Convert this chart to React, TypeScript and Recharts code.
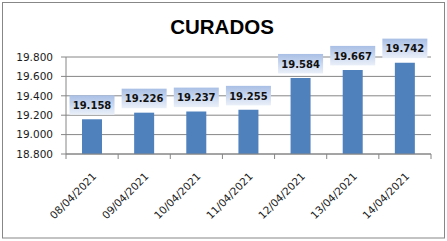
import { Bar, BarChart, CartesianGrid, LabelList, XAxis, YAxis } from 'recharts'

const dates = ['08/04/2021', '09/04/2021', '10/04/2021', '11/04/2021', '12/04/2021', '13/04/2021', '14/04/2021']
const curados = [19158, 19226, 19237, 19255, 19584, 19667, 19742]
const yTicks = [18800, 19000, 19200, 19400, 19600, 19800]

const data = dates.map((d, i) => ({ date: d, value: curados[i] }))

const GRID = '#868686'
const FONT = '"DejaVu Sans", Verdana, sans-serif'

const fmt = (v: number) => {
  const s = Math.round(v).toString()
  return s.replace(/\B(?=(\d{3})+(?!\d))/g, '.')
}

function DateTick(props: any) {
  const { x, y, payload, index } = props
  const off = payload?.offset ?? 26
  const tx = x + 5
  const ty = y + 23
  return (
    <g>
      <line x1={x - off} x2={x - off} y1={y} y2={y + 5} stroke={GRID} />
      {index === dates.length - 1 && <line x1={x + off} x2={x + off} y1={y} y2={y + 5} stroke={GRID} />}
      <text
        x={tx}
        y={ty}
        transform={`rotate(-45 ${tx} ${ty})`}
        textAnchor="end"
        fontSize={10.5}
        fontFamily={FONT}
        fill="#1b1b1b"
      >
        {payload.value}
      </text>
    </g>
  )
}

function ValueLabel(props: any) {
  const { x, y, width, value } = props
  const cx = x + width / 2
  const h = 19.5
  const w = 45
  const bottom = y - 4.5
  return (
    <g>
      <rect x={cx - w / 2} y={bottom - h} width={w} height={h} fill="url(#lblGrad)" />
      <text
        x={cx}
        y={bottom - h / 2 + 4}
        textAnchor="middle"
        fontSize={10}
        fontWeight="bold"
        fontFamily={FONT}
        fill="#111"
      >
        {fmt(value)}
      </text>
    </g>
  )
}

export default function App() {
  return (
    <div style={{ position: 'absolute', left: 0, top: 0, width: 447, height: 241, background: '#fff' }}>
      <BarChart width={447} height={241} data={data} margin={{ top: 57, right: 16, bottom: 57, left: 0 }}>
        <defs>
          <linearGradient id="lblGrad" x1="0" y1="0" x2="0" y2="1">
            <stop offset="0%" stopColor="#a9bfe5" />
            <stop offset="100%" stopColor="#eaf0f9" />
          </linearGradient>
        </defs>
        <CartesianGrid vertical={false} stroke={GRID} />
        <XAxis
          dataKey="date"
          height={30}
          axisLine={{ stroke: GRID }}
          tickLine={false}
          tickSize={0}
          tickMargin={0}
          interval={0}
          tick={<DateTick />}
        />
        <YAxis
          width={66}
          domain={[18800, 19800]}
          ticks={yTicks}
          interval={0}
          tickFormatter={fmt}
          axisLine={{ stroke: GRID }}
          tickLine={{ stroke: GRID }}
          tickSize={5}
          tickMargin={8}
          tick={{ fontSize: 10.5, fontFamily: FONT, fill: '#1b1b1b' }}
        />
        <Bar dataKey="value" fill="#4f81bd" barSize={20} isAnimationActive={false}>
          <LabelList dataKey="value" content={<ValueLabel />} />
        </Bar>
      </BarChart>
      <svg width={447} height={241} style={{ position: 'absolute', left: 0, top: 0, pointerEvents: 'none' }}>
        <rect x={2.5} y={2.5} width={442} height={235.5} fill="none" stroke="#878787" />
        <text x={222} y={34} textAnchor="middle" fontSize={20.5} fontWeight="bold" fontFamily='"Liberation Sans", Arial, sans-serif' fill="#000">
          CURADOS
        </text>
      </svg>
    </div>
  )
}
